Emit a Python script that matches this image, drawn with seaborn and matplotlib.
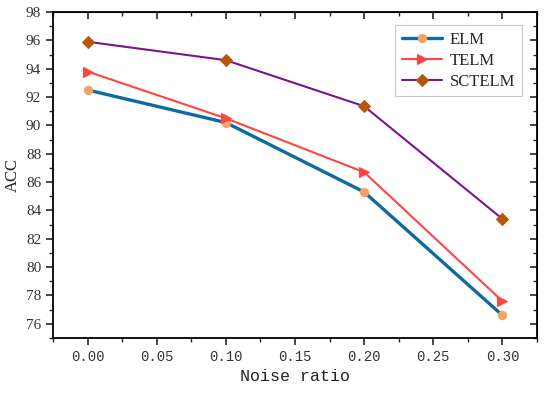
import matplotlib
matplotlib.use("Agg")
import matplotlib.pyplot as plt
import seaborn as sns
import pandas as pd
from matplotlib.ticker import MultipleLocator

noise = [0.00, 0.10, 0.20, 0.30]
elm = [92.5, 90.2, 85.3, 76.6]
telm = [93.8, 90.5, 86.7, 77.6]
sctelm = [95.9, 94.6, 91.35, 83.4]
series_names = ["ELM", "TELM", "SCTELM"]

sns.set_style("white")
plt.rcParams['font.family'] = ['Liberation Serif', 'DejaVu Sans']

df = pd.DataFrame({"noise": noise * 3,
                   "acc": elm + telm + sctelm,
                   "model": sum([[n] * 4 for n in series_names], [])})

fig = plt.figure(figsize=(5.5, 3.94), dpi=100)
ax = fig.add_axes([53/550, 1 - 338/394, (537-53)/550, (338-12)/394])

styles = {
    "ELM": dict(color="#0e6aa0", mfc="#f4a266", marker="o", lw=2.4, ms=6),
    "TELM": dict(color="#ff4444", mfc="#ff4444", marker=">", lw=1.5, ms=7),
    "SCTELM": dict(color="#7a1590", mfc="#b5560e", marker="D", lw=1.5, ms=6),
}
for name in series_names:
    s = styles[name]
    sub = df[df.model == name]
    sns.lineplot(data=sub, x="noise", y="acc", ax=ax, color=s["color"], lw=s["lw"],
                 marker=s["marker"], markersize=s["ms"], markerfacecolor=s["mfc"],
                 markeredgecolor=s["mfc"], label=name, zorder=3)

ax.set_xlim(-0.025, 0.325)
ax.set_ylim(75, 98)
ax.xaxis.set_major_locator(MultipleLocator(0.05))
ax.xaxis.set_minor_locator(MultipleLocator(0.025))
ax.yaxis.set_major_locator(MultipleLocator(2))
ax.yaxis.set_minor_locator(MultipleLocator(1))
ax.set_xticks([0.0, 0.05, 0.10, 0.15, 0.20, 0.25, 0.30])
ax.set_xticklabels(["0.00", "0.05", "0.10", "0.15", "0.20", "0.25", "0.30"],
                   family="Liberation Mono", fontsize=10, color="#333333")
for lab in ax.get_yticklabels():
    lab.set_fontsize(11)
    lab.set_color("#333333")

for sp in ax.spines.values():
    sp.set_linewidth(1.3)
    sp.set_color("black")

ax.tick_params(axis="both", which="major", direction="out", length=5, width=1.2,
               bottom=True, left=True, top=False, right=False)
ax.tick_params(axis="both", which="minor", direction="out", length=3, width=1.0,
               bottom=True, left=True, top=False, right=False)

axt = ax.secondary_xaxis("top")
axt.set_xticks([0.0, 0.05, 0.10, 0.15, 0.20, 0.25, 0.30])
axt.xaxis.set_minor_locator(MultipleLocator(0.025))
axt.tick_params(which="major", direction="in", length=5, width=1.2, labeltop=False)
axt.tick_params(which="minor", direction="in", length=3, width=1.0)
axr = ax.secondary_yaxis("right")
axr.yaxis.set_major_locator(MultipleLocator(2))
axr.yaxis.set_minor_locator(MultipleLocator(1))
axr.tick_params(which="major", direction="in", length=5, width=1.2, labelright=False)
axr.tick_params(which="minor", direction="in", length=3, width=1.0)

ax.set_xlabel("Noise ratio", family="Liberation Mono", fontsize=12, labelpad=4,
              color="#222222")
ax.set_ylabel("ACC", fontsize=12, color="#222222")

leg = ax.legend(loc="upper right", bbox_to_anchor=(0.969, 0.96), borderaxespad=0,
                fontsize=12, frameon=True, fancybox=False, edgecolor="#bbbbbb",
                handlelength=2.4, handletextpad=0.5, borderpad=0.4, labelspacing=0.3)
leg.get_frame().set_linewidth(0.8)

fig.savefig("out.png", dpi=100)
